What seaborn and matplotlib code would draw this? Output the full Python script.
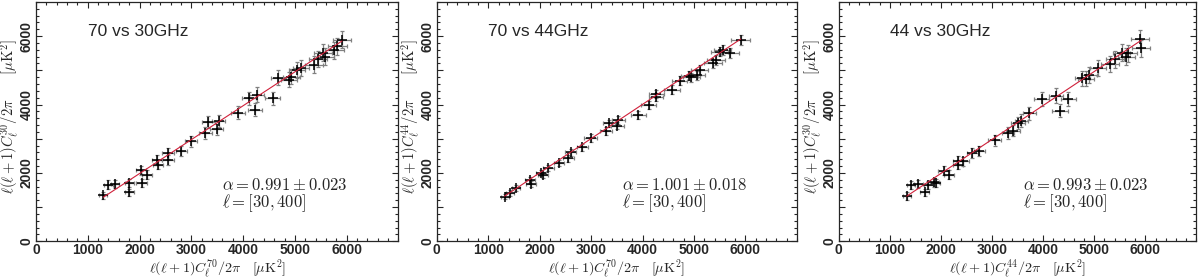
import numpy as np
import pandas as pd
import seaborn as sns
import matplotlib
matplotlib.use("Agg")
import matplotlib.pyplot as plt
from matplotlib.ticker import MultipleLocator

# dados (uK^2)
x_70_30 = [1300, 1400, 1530, 1800, 1800, 2030, 2040, 2140, 2340, 2360, 2550, 2550, 2810, 2990, 3270,
           3330, 3490, 3530, 3900, 4110, 4230, 4260, 4570, 4680, 4890, 4930, 5040, 5120, 5370, 5450,
           5540, 5590, 5760, 5820, 5910]
y_70_30 = [1340, 1660, 1680, 1710, 1430, 2080, 1710, 1950, 2370, 2240, 2370, 2570, 2650, 2930, 3170,
           3490, 3270, 3510, 3760, 4180, 3850, 4290, 4180, 4780, 4730, 4810, 5000, 5070, 5170, 5340,
           5510, 5400, 5590, 5710, 5900]
xerr_70_30 = [80, 80, 80, 90, 90, 100, 100, 100, 100, 100, 110, 110, 110, 120, 120,
              120, 130, 130, 140, 140, 140, 140, 150, 150, 160, 160, 160, 160, 170, 170,
              170, 170, 180, 180, 180]
yerr_70_30 = [110, 120, 120, 120, 110, 130, 120, 130, 140, 140, 140, 150, 150, 160, 170,
              180, 170, 180, 190, 200, 190, 210, 200, 220, 220, 220, 230, 230, 240, 240,
              250, 240, 250, 250, 260]

x_70_44 = [1320, 1420, 1540, 1810, 1830, 2030, 2060, 2170, 2380, 2560, 2600, 2830, 2990, 3290, 3350,
           3510, 3530, 3920, 4120, 4260, 4270, 4570, 4720, 4910, 4950, 5060, 5110, 5370, 5430, 5500,
           5560, 5700, 5910]
y_70_44 = [1310, 1410, 1560, 1800, 1680, 1990, 1930, 2140, 2300, 2430, 2600, 2750, 3020, 3230, 3450,
           3380, 3550, 3700, 3990, 4230, 4300, 4430, 4700, 4840, 4800, 4860, 5010, 5200, 5300, 5550,
           5590, 5500, 5880]
xerr_70_44 = [80, 80, 80, 90, 90, 100, 100, 100, 100, 110, 110, 110, 120, 120, 120,
              130, 130, 140, 140, 140, 140, 150, 150, 160, 160, 160, 160, 170, 170, 170,
              170, 180, 180]
yerr_70_44 = [80, 80, 80, 90, 90, 90, 90, 90, 90, 100, 100, 100, 110, 110, 110,
              110, 110, 120, 120, 120, 120, 130, 130, 130, 130, 130, 140, 140, 140, 140,
              140, 140, 150]

x_44_30 = [1330, 1420, 1560, 1680, 1750, 1870, 1900, 2050, 2150, 2330, 2340, 2440, 2610, 2750, 3050,
           3310, 3410, 3510, 3570, 3730, 3970, 4250, 4330, 4490, 4770, 4840, 4900, 5080, 5310, 5410,
           5540, 5630, 5670, 5900, 5920]
y_44_30 = [1330, 1650, 1670, 1430, 1650, 1720, 1700, 2070, 1950, 2360, 2240, 2340, 2580, 2650, 2950,
           3160, 3240, 3450, 3530, 3750, 4160, 4260, 3820, 4160, 4770, 4750, 4860, 5060, 5190, 5320,
           5520, 5400, 5500, 5910, 5640]
xerr_44_30 = [80, 80, 80, 90, 90, 90, 90, 100, 100, 100, 100, 100, 110, 110, 120,
              120, 130, 130, 130, 130, 140, 140, 150, 150, 150, 160, 160, 160, 170, 170,
              170, 170, 170, 180, 180]
yerr_44_30 = [110, 120, 120, 110, 120, 120, 120, 130, 130, 140, 140, 140, 150, 150, 160,
              170, 170, 180, 180, 190, 200, 210, 190, 200, 220, 220, 230, 230, 240, 240,
              250, 240, 250, 260, 250]

titulos = ["70 vs 30GHz", "70 vs 44GHz", "44 vs 30GHz"]
alphas = [0.991, 1.001, 0.993]
alpha_erros = [0.023, 0.018, 0.023]
xlabels = [r"$\ell(\ell+1)C_\ell^{70}/2\pi \quad [\mu\mathrm{K}^2]$",
           r"$\ell(\ell+1)C_\ell^{70}/2\pi \quad [\mu\mathrm{K}^2]$",
           r"$\ell(\ell+1)C_\ell^{44}/2\pi \quad [\mu\mathrm{K}^2]$"]
ylabels = [r"$\ell(\ell+1)C_\ell^{30}/2\pi \qquad [\mu\mathrm{K}^2]$",
           r"$\ell(\ell+1)C_\ell^{44}/2\pi \qquad [\mu\mathrm{K}^2]$",
           r"$\ell(\ell+1)C_\ell^{30}/2\pi \qquad [\mu\mathrm{K}^2]$"]

sns.set_style("ticks")
plt.rcParams['font.family'] = ['Liberation Sans', 'DejaVu Sans']
plt.rcParams['mathtext.fontset'] = 'cm'

paineis = [(x_70_30, y_70_30, xerr_70_30, yerr_70_30),
           (x_70_44, y_70_44, xerr_70_44, yerr_70_44),
           (x_44_30, y_44_30, xerr_44_30, yerr_44_30)]

fig = plt.figure(figsize=(12, 2.78), dpi=100)
lefts = [0.030, 0.364, 0.699]
larguras = [0.302, 0.300, 0.298]

for i, (x, y, xe, ye) in enumerate(paineis):
    ax = fig.add_axes([lefts[i], 0.132, larguras[i], 0.861])
    df = pd.DataFrame({"x": x, "y": y})

    # barras de erro cinzas
    ax.errorbar(df["x"], df["y"], xerr=xe, yerr=ye, fmt='none', ecolor='#808080',
                elinewidth=0.9, capsize=1.6, capthick=0.9, zorder=2)
    # marcadores +
    sns.scatterplot(data=df, x="x", y="y", marker='+', s=55, color='black',
                    linewidth=1.1, ax=ax, zorder=3)

    # ajuste linear y = alpha * x
    xf = np.array([min(x), max(x)])
    fit = pd.DataFrame({"x": xf, "y": alphas[i] * xf})
    sns.lineplot(data=fit, x="x", y="y", color='#d0203a', linewidth=0.8, ax=ax, zorder=4)

    ax.set_xlim(0, 7000)
    ax.set_ylim(0, 7000)
    ax.xaxis.set_minor_locator(MultipleLocator(200))
    ax.yaxis.set_minor_locator(MultipleLocator(200))
    ax.set_xticks([0, 1000, 2000, 3000, 4000, 5000, 6000])
    ax.set_yticks([0, 1000, 2000, 3000, 4000, 5000, 6000])
    ax.set_yticklabels(["0", "", "2000", "", "4000", "", "6000"], rotation=90, va='center')
    ax.tick_params(which='both', direction='in', top=True, right=True, width=0.8)
    ax.tick_params(which='major', length=4.5, labelsize=10, pad=1.5)
    ax.tick_params(which='minor', length=2.3)
    for lab in ax.get_xticklabels() + ax.get_yticklabels():
        lab.set_fontweight('bold')
    for s in ax.spines.values():
        s.set_linewidth(0.9)

    ax.set_xlabel(xlabels[i], fontsize=10.2)
    ax.xaxis.set_label_coords(0.5, -0.068)
    ax.set_ylabel(ylabels[i], fontsize=10.5)
    ax.yaxis.set_label_coords(-0.042, 0.52)

    ax.text(1000, 6150, titulos[i], fontsize=12.5, va='center', ha='left')
    ax.text(3600, 1660, r"$\alpha = %.3f \pm %.3f$" % (alphas[i], alpha_erros[i]),
            fontsize=12, va='center', ha='left')
    ax.text(3600, 1120, r"$\ell = [30, 400]$", fontsize=12, va='center', ha='left')

fig.savefig("out.png", dpi=100)
